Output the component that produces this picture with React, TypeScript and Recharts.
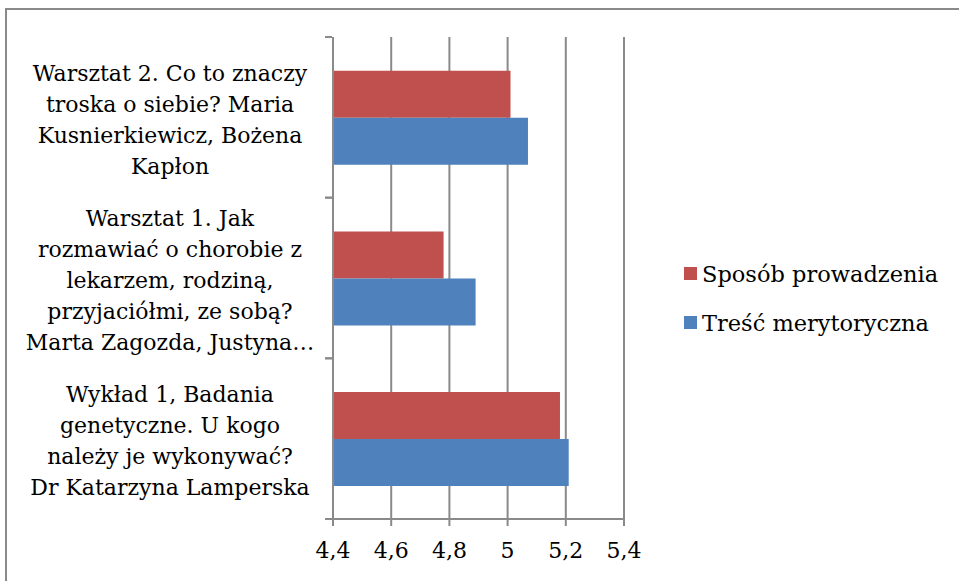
import React from 'react';
import {
    BarChart,
    Bar,
    XAxis,
    YAxis,
    CartesianGrid,
} from 'recharts';

// kategorie od góry do dołu, linie rozdzielone \n
const categories = [
    'Warsztat 2. Co to znaczy\ntroska o siebie? Maria\nKusnierkiewicz, Bożena\nKapłon',
    'Warsztat 1. Jak\nrozmawiać o chorobie z\nlekarzem, rodziną,\nprzyjaciółmi, ze sobą?\nMarta Zagozda, Justyna…',
    'Wykład 1, Badania\ngenetyczne. U kogo\nnależy je wykonywać?\nDr Katarzyna Lamperska',
];
const sposobProwadzenia = [5.01, 4.78, 5.18];
const trescMerytoryczna = [5.07, 4.89, 5.21];
const xTicks = [4.4, 4.6, 4.8, 5, 5.2, 5.4];

const seriesNames = ['Sposób prowadzenia', 'Treść merytoryczna'];
const seriesColors = ['#C0504D', '#4F81BD'];

const FONT = '"DejaVu Serif", serif';
const FS = 22;
const GRID = '#8a8a8a';

const chartData = categories.map((name, i) => ({
    name,
    sposob: sposobProwadzenia[i],
    tresc: trescMerytoryczna[i],
}));

// eslint-disable-next-line @typescript-eslint/no-explicit-any
const CategoryTick = (props: any) => {
    const { x, y, payload } = props;
    const lines: string[] = String(payload.value).split('\n');
    const lh = 31;
    const half = payload.offset || 80;
    const startY = y + 2 - ((lines.length - 1) * lh) / 2;
    return (
        <g>
            <line x1={x} x2={x + 7} y1={y - half} y2={y - half} stroke={GRID} strokeWidth={2} />
            <line x1={x} x2={x + 7} y1={y + half} y2={y + half} stroke={GRID} strokeWidth={2} />
            <text x={170} y={startY} textAnchor="middle" dominantBaseline="central" fontSize={FS} fontFamily={FONT} fill="#000">
                {lines.map((l, i) => (
                    <tspan key={i} x={170} y={startY + i * lh}>{l}</tspan>
                ))}
            </text>
        </g>
    );
};

const ChartLegend = () => (
    <div style={{ position: 'absolute', left: 684, top: 249, fontFamily: FONT, fontSize: 22.5, color: '#000' }}>
        {seriesNames.map((n, i) => (
            <div key={n} style={{ display: 'flex', alignItems: 'center', height: 49 }}>
                <span style={{ width: 13, height: 13, background: seriesColors[i], display: 'inline-block', marginRight: 5 }} />
                <span>{n}</span>
            </div>
        ))}
    </div>
);

export default function App() {
    return (
        <div style={{ position: 'fixed', left: 0, top: 0, width: 959, height: 581, background: '#fff', overflow: 'hidden' }}>
            <div style={{ position: 'absolute', left: 5, top: 8, width: 970, height: 590, border: `2px solid ${GRID}` }} />
            <BarChart
                width={959}
                height={581}
                data={chartData}
                layout="vertical"
                margin={{ top: 37, right: 335, bottom: 22, left: 0 }}
                barCategoryGap="21%"
                barGap={0}
            >
                <CartesianGrid horizontal={false} vertical stroke={GRID} strokeWidth={2} />
                <XAxis
                    type="number"
                    domain={[4.4, 5.4]}
                    ticks={xTicks}
                    interval={0}
                    height={40}
                    axisLine={{ stroke: GRID, strokeWidth: 2 }}
                    tickLine={{ stroke: GRID, strokeWidth: 2 }}
                    tickSize={7}
                    tickMargin={16}
                    tickFormatter={(v: number) => String(v).replace('.', ',')}
                    tick={{ fontFamily: FONT, fontSize: FS, fill: '#000' }}
                />
                <YAxis
                    type="category"
                    dataKey="name"
                    width={333}
                    interval={0}
                    axisLine={{ stroke: GRID, strokeWidth: 2 }}
                    tickLine={false}
                    tick={<CategoryTick />}
                />
                <Bar dataKey="sposob" name={seriesNames[0]} fill={seriesColors[0]} isAnimationActive={false} />
                <Bar dataKey="tresc" name={seriesNames[1]} fill={seriesColors[1]} isAnimationActive={false} />
            </BarChart>
            <ChartLegend />
        </div>
    );
}
